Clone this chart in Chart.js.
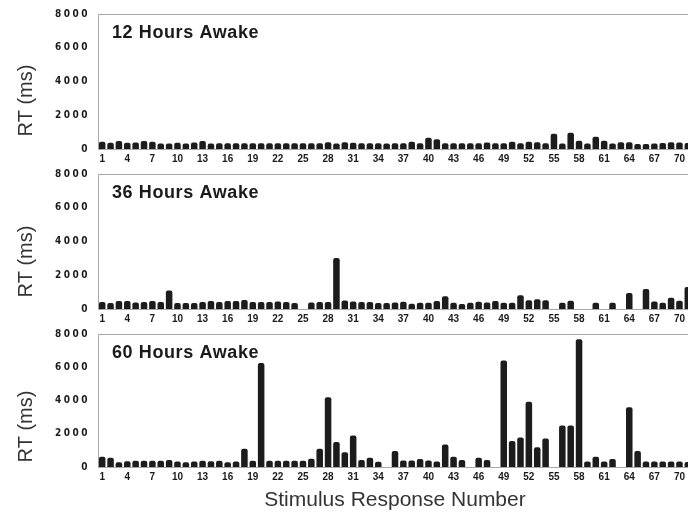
<!DOCTYPE html>
<html>
<head>
<meta charset="utf-8">
<script src="https://cdn.jsdelivr.net/npm/chart.js@4"></script>
<style>
  html, body { margin: 0; padding: 0; background: #fff; overflow: hidden; width: 688px; height: 514px; }
  canvas { position: absolute; left: 0; }
</style>
</head>
<body>
<canvas id="c12" width="694" height="165" style="top:0px"></canvas>
<canvas id="c36" width="694" height="165" style="top:160px"></canvas>
<canvas id="c60" width="694" height="194" style="top:320px"></canvas>
<script>
const responseNumbers = [1,2,3,4,5,6,7,8,9,10,11,12,13,14,15,16,17,18,19,20,21,22,23,24,25,26,27,28,29,30,
  31,32,33,34,35,36,37,38,39,40,41,42,43,44,45,46,47,48,49,50,51,52,53,54,55,56,57,58,59,60,
  61,62,63,64,65,66,67,68,69,70,71];

// reaction times (ms), null = no response recorded
const rt12 = [430,370,470,370,390,470,430,330,330,370,330,390,470,330,340,340,340,340,340,340,
  340,340,340,340,340,340,340,400,330,400,370,340,340,340,330,340,340,430,340,660,
  580,340,340,340,340,340,390,340,340,430,340,430,400,340,910,330,970,490,330,720,
  490,330,400,400,290,300,330,360,400,380,350];
const rt36 = [410,350,470,470,390,410,470,410,1090,350,350,350,410,470,410,470,470,540,410,410,
  410,450,410,350,null,390,410,410,3020,500,450,410,410,350,350,390,430,310,370,370,
  470,760,370,300,370,430,390,470,370,370,820,520,580,520,null,370,490,null,null,370,
  null,370,null,950,null,1180,450,370,660,490,1300];
const rt60 = [620,560,290,350,370,370,370,370,420,330,290,330,370,350,370,290,330,1100,370,6250,
  370,370,370,370,370,500,1100,4200,1500,880,1900,420,560,320,null,960,390,390,480,390,
  330,1350,620,420,null,560,420,null,6400,1560,1770,3930,1190,1710,null,2490,2490,7690,330,620,
  330,480,null,3600,960,330,330,330,330,330,300];

const yMax = 8000;
const yStep = 2000;

const panelDecor = {
  id: 'panelDecor',
  beforeDraw(chart) {
    const ys = chart.scales.y;
    if (ys && !ys._spaced) {
      const orig = ys.drawLabels;
      ys.drawLabels = function (area) {
        this.ctx.save();
        this.ctx.letterSpacing = '2.5px';
        orig.call(this, area);
        this.ctx.restore();
      };
      ys._spaced = true;
    }
  },
  beforeDatasetsDraw(chart) {
    const {ctx, chartArea: a} = chart;
    ctx.save();
    ctx.strokeStyle = '#a8a8a8';
    ctx.lineWidth = 1;
    ctx.beginPath();
    ctx.moveTo(a.left + 0.5, a.bottom + 0.5);
    ctx.lineTo(a.left + 0.5, a.top + 0.5);
    ctx.lineTo(a.right, a.top + 0.5);
    ctx.moveTo(a.left, a.bottom + 0.5);
    ctx.lineTo(a.right, a.bottom + 0.5);
    ctx.stroke();
    ctx.restore();
  },
  afterDraw(chart, args, opts) {
    const {ctx, chartArea: a} = chart;
    ctx.save();
    ctx.fillStyle = '#1a1a1a';
    ctx.font = 'bold 18px "Liberation Sans", Arial, sans-serif';
    ctx.letterSpacing = '0.6px';
    ctx.textBaseline = 'middle';
    ctx.fillText(opts.title, a.left + 14, a.top + 19);
    ctx.letterSpacing = '0px';
    ctx.font = '20px "Liberation Sans", Arial, sans-serif';
    ctx.fillStyle = '#333';
    ctx.translate(26, (a.top + a.bottom) / 2 + opts.yShift);
    ctx.rotate(-Math.PI / 2);
    ctx.textAlign = 'center';
    ctx.fillText(opts.yTitle, 0, 0);
    ctx.restore();
  }
};

function makePanel(id, title, values, bottom, yShift) {
  return new Chart(document.getElementById(id), {
    type: 'bar',
    data: {
      labels: responseNumbers,
      datasets: [{
        data: values,
        backgroundColor: '#1c1c1c',
        borderRadius: 2,
        barPercentage: 0.78,
        categoryPercentage: 1
      }]
    },
    options: {
      responsive: false,
      animation: false,
      devicePixelRatio: 1,
      layout: { padding: { top: 12, right: 2, left: 0, bottom: 0 } },
      plugins: {
        legend: { display: false },
        tooltip: { enabled: false },
        panelDecor: { title: title, yTitle: 'RT (ms)', yShift: yShift }
      },
      scales: {
        x: {
          grid: { display: false, drawTicks: false, tickLength: 0 },
          border: { display: false },
          ticks: {
            autoSkip: false,
            maxRotation: 0,
            padding: 4,
            color: '#1a1a1a',
            font: { family: '"Liberation Sans", Arial, sans-serif', size: 10, weight: 'bold' },
            callback: function (v, i) { return i % 3 === 0 ? this.getLabelForValue(v) : ''; }
          },
          title: {
            display: bottom,
            text: 'Stimulus Response Number',
            color: '#333',
            font: { family: '"Liberation Sans", Arial, sans-serif', size: 21 },
            padding: { top: 0, bottom: 1 }
          },
          afterFit: s => { s.height = bottom ? 47 : 16; }
        },
        y: {
          min: 0,
          max: yMax,
          grid: { display: false, drawTicks: false },
          border: { display: false },
          ticks: {
            stepSize: yStep,
            padding: 8,
            color: '#1a1a1a',
            font: { family: '"Liberation Sans Narrow", "DejaVu Sans Condensed", Arial, sans-serif', size: 10, weight: 'bold' },
            callback: v => String(v)
          },
          afterFit: s => { s.width = 98; }
        }
      }
    },
    plugins: [panelDecor]
  });
}

makePanel('c12', '12 Hours Awake', rt12, false, 19);
makePanel('c36', '36 Hours Awake', rt36, false, 20);
makePanel('c60', '60 Hours Awake', rt60, true, 26);
</script>
</body>
</html>
